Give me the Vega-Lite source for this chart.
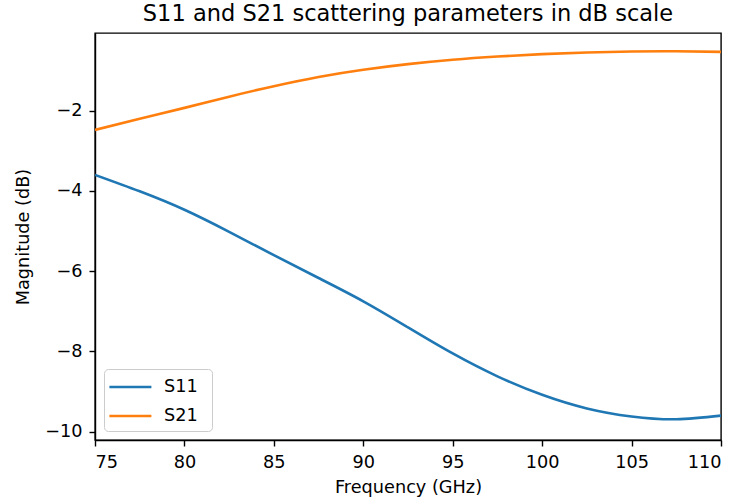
{
  "$schema": "https://vega.github.io/schema/vega-lite/v6.json",
  "width": 626,
  "height": 407,
  "autosize": {"type": "none"},
  "padding": {"left": 95, "top": 33, "right": 16, "bottom": 64},
  "title": {"text": "S11 and S21 scattering parameters in dB scale", "fontSize": 22.5, "fontWeight": "normal", "color": "#000000", "font": "DejaVu Sans", "anchor": "middle", "offset": 8},
  "data": {"values": [
    {"f": 75, "db": -3.60, "s": "S11"},
    {"f": 77.5, "db": -4.01, "s": "S11"},
    {"f": 80, "db": -4.47, "s": "S11"},
    {"f": 82.5, "db": -5.02, "s": "S11"},
    {"f": 85, "db": -5.60, "s": "S11"},
    {"f": 87.5, "db": -6.17, "s": "S11"},
    {"f": 90, "db": -6.75, "s": "S11"},
    {"f": 92.5, "db": -7.40, "s": "S11"},
    {"f": 95, "db": -8.05, "s": "S11"},
    {"f": 97.5, "db": -8.62, "s": "S11"},
    {"f": 100, "db": -9.08, "s": "S11"},
    {"f": 102.5, "db": -9.42, "s": "S11"},
    {"f": 105, "db": -9.62, "s": "S11"},
    {"f": 107.5, "db": -9.69, "s": "S11"},
    {"f": 110, "db": -9.60, "s": "S11"},
    {"f": 75, "db": -2.48, "s": "S21"},
    {"f": 77.5, "db": -2.20, "s": "S21"},
    {"f": 80, "db": -1.93, "s": "S21"},
    {"f": 82.5, "db": -1.65, "s": "S21"},
    {"f": 85, "db": -1.39, "s": "S21"},
    {"f": 87.5, "db": -1.16, "s": "S21"},
    {"f": 90, "db": -0.98, "s": "S21"},
    {"f": 92.5, "db": -0.84, "s": "S21"},
    {"f": 95, "db": -0.73, "s": "S21"},
    {"f": 97.5, "db": -0.65, "s": "S21"},
    {"f": 100, "db": -0.59, "s": "S21"},
    {"f": 102.5, "db": -0.55, "s": "S21"},
    {"f": 105, "db": -0.525, "s": "S21"},
    {"f": 107.5, "db": -0.52, "s": "S21"},
    {"f": 110, "db": -0.535, "s": "S21"}
  ]},
  "mark": {"type": "line", "interpolate": "natural", "strokeWidth": 2.6, "clip": true},
  "encoding": {
    "x": {"field": "f", "type": "quantitative", "title": "Frequency (GHz)",
      "scale": {"domain": [75, 110], "nice": false, "zero": false},
      "axis": {"values": [75, 80, 85, 90, 95, 100, 105, 110], "grid": false}},
    "y": {"field": "db", "type": "quantitative", "title": "Magnitude (dB)",
      "scale": {"domain": [-10.207, -0.064], "nice": false, "zero": false},
      "axis": {"values": [-10, -8, -6, -4, -2], "grid": false, "titlePadding": 12}},
    "color": {"field": "s", "type": "nominal",
      "scale": {"domain": ["S11", "S21"], "range": ["#1f77b4", "#ff7f0e"]},
      "legend": {"title": null, "orient": "none", "legendX": 9, "legendY": 336,
        "symbolType": "M-1.2,0H2.8M7.5,0", "symbolSize": 441, "symbolStrokeWidth": 2.6,
        "labelOffset": 30, "rowPadding": 8, "padding": 6,
        "fillColor": "rgba(255,255,255,0.8)", "strokeColor": "#cccccc", "cornerRadius": 4}}
  },
  "config": {
    "font": "DejaVu Sans",
    "view": {"stroke": "#000000", "strokeWidth": 1.4},
    "axis": {"domainColor": "#000000", "domainWidth": 1.4, "tickColor": "#000000", "tickWidth": 1.4, "tickSize": 6,
      "labelPadding": 7, "labelFontSize": 17.7, "labelColor": "#000000", "titleFontSize": 17.7, "titleFontWeight": "normal", "titleColor": "#000000"},
    "axisX": {"titlePadding": 8},
    "legend": {"labelFontSize": 17.7, "labelColor": "#000000"}
  }
}
